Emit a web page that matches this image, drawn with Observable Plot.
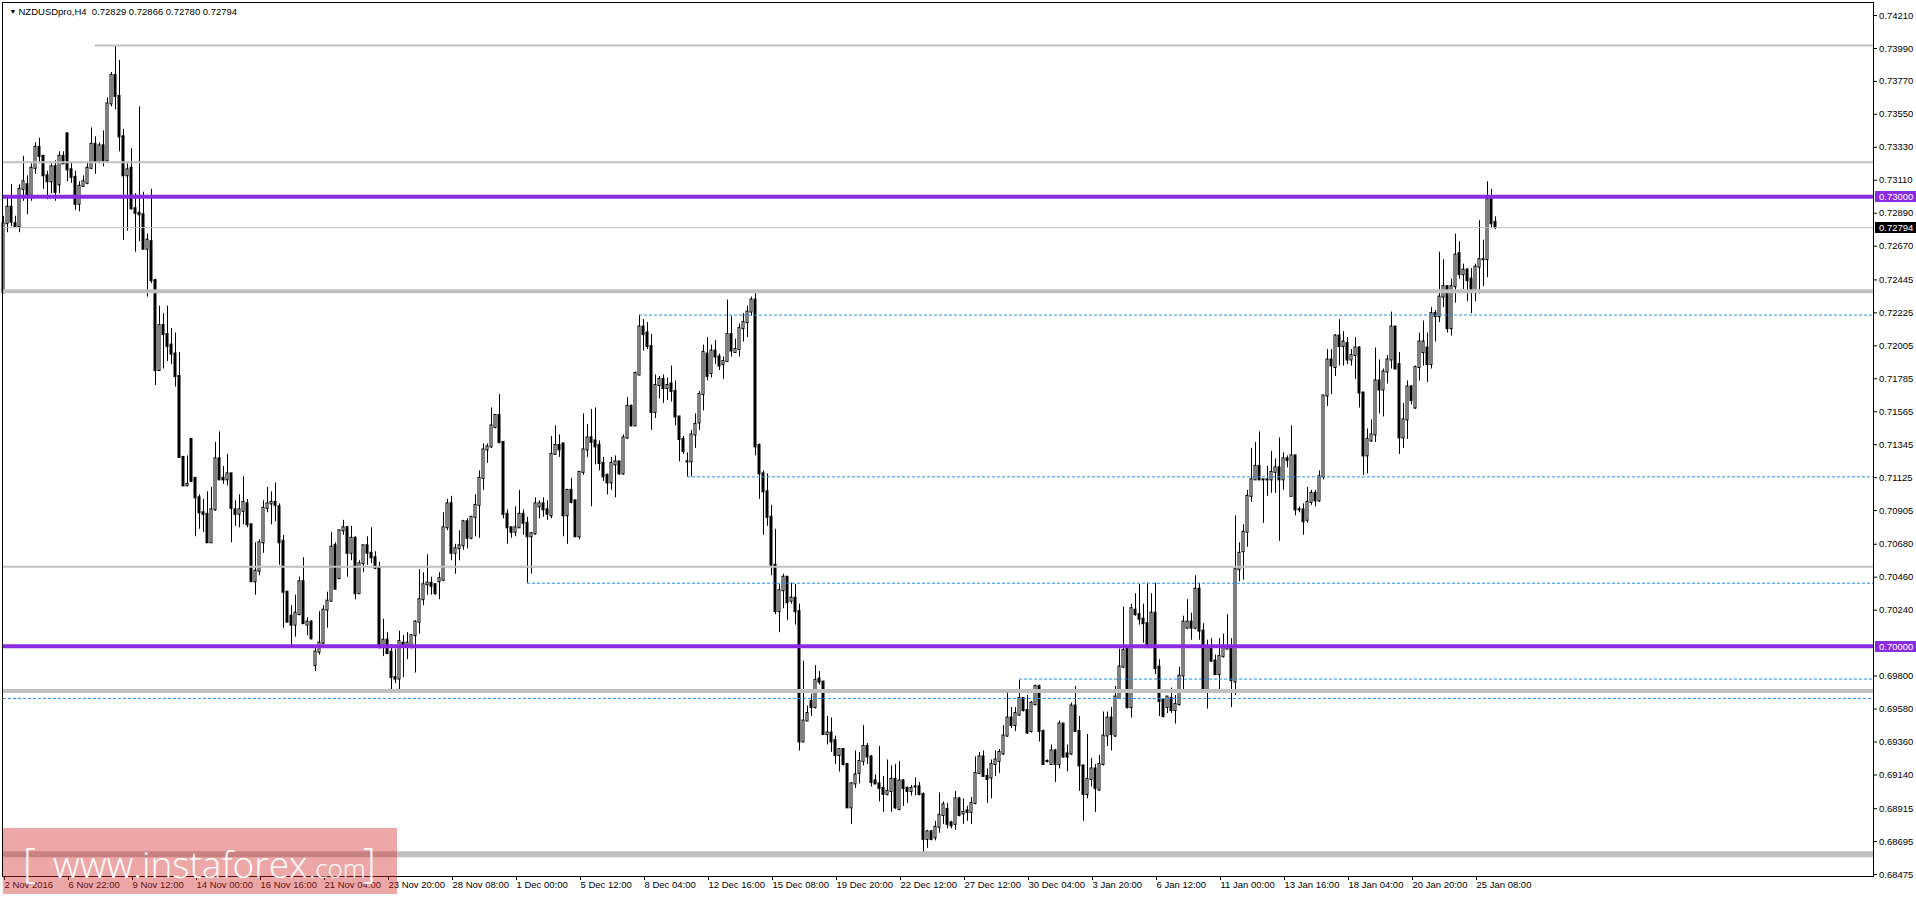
<!DOCTYPE html>
<html><head><meta charset="utf-8">
<script src="https://cdn.jsdelivr.net/npm/d3@7"></script>
<script src="https://cdn.jsdelivr.net/npm/@observablehq/plot@0.6"></script>
<style>
html,body{margin:0;padding:0;background:#fff;overflow:hidden}
#wrap{position:relative;width:1916px;height:897px}
#wm{position:absolute;left:3px;top:828px;width:394px;height:66px;background:rgba(214,46,46,0.42);color:#fff;font-family:"Open Sans","DejaVu Sans",sans-serif;font-weight:300;white-space:nowrap;pointer-events:none}
#wm span{position:absolute;line-height:1}
</style></head><body><div id="wrap"></div>
<script>
const symbolTitle = "NZDUSDpro,H4\u00a0\u00a00.72829 0.72866 0.72780 0.72794";
const open = [0.7236,0.7282,0.7293,0.7282,0.7280,0.7305,0.7308,0.7301,0.7319,0.7333,
0.7327,0.7314,0.7310,0.7320,0.7308,0.7327,0.7342,0.7318,0.7313,0.7295,
0.7307,0.7309,0.7319,0.7335,0.7323,0.7334,0.7324,0.7362,0.7381,0.7367,
0.7340,0.7314,0.7319,0.7292,0.7289,0.7288,0.7265,0.7270,0.7244,0.7184,
0.7214,0.7208,0.7201,0.7195,0.7180,0.7126,0.7107,0.7138,0.7112,0.7099,
0.7089,0.7088,0.7069,0.7091,0.7125,0.7112,0.7111,0.7115,0.7091,0.7088,
0.7090,0.7095,0.7081,0.7043,0.7050,0.7069,0.7092,0.7095,0.7096,0.7093,
0.7070,0.7036,0.7020,0.7014,0.7021,0.7043,0.7014,0.7016,0.6987,0.6996,
0.7002,0.7024,0.7030,0.7067,0.7045,0.7077,0.7079,0.7062,0.7072,0.7035,
0.7055,0.7067,0.7062,0.7059,0.7052,0.6999,0.7004,0.6996,0.6979,0.6978,
0.7002,0.7000,0.7000,0.7007,0.7016,0.7031,0.7041,0.7042,0.7041,0.7043,
0.7044,0.7079,0.7095,0.7062,0.7065,0.7067,0.7083,0.7072,0.7086,0.7094,
0.7112,0.7131,0.7133,0.7146,0.7154,0.7136,0.7088,0.7079,0.7076,0.7079,
0.7088,0.7082,0.7073,0.7075,0.7093,0.7095,0.7091,0.7087,0.7128,0.7134,
0.7135,0.7087,0.7104,0.7097,0.7073,0.7116,0.7131,0.7139,0.7137,0.7134,
0.7122,0.7114,0.7109,0.7121,0.7123,0.7115,0.7139,0.7160,0.7147,0.7181,
0.7213,0.7209,0.7200,0.7156,0.7174,0.7178,0.7172,0.7175,0.7170,0.7153,
0.7138,0.7123,0.7123,0.7141,0.7149,0.7168,0.7195,0.7182,0.7197,0.7193,
0.7188,0.7190,0.7208,0.7196,0.7198,0.7212,0.7216,0.7223,0.7231,0.7134,
0.7115,0.7103,0.7086,0.7054,0.7023,0.7037,0.7046,0.7030,0.7032,0.7023,
0.6936,0.6950,0.6963,0.6959,0.6978,0.6976,0.6941,0.6942,0.6937,0.6927,
0.6931,0.6921,0.6892,0.6908,0.6915,0.6923,0.6933,0.6926,0.6910,0.6908,
0.6905,0.6901,0.6903,0.6911,0.6891,0.6910,0.6905,0.6903,0.6906,0.6906,
0.6901,0.6871,0.6876,0.6872,0.6879,0.6887,0.6891,0.6882,0.6881,0.6898,
0.6888,0.6890,0.6889,0.6895,0.6915,0.6926,0.6913,0.6912,0.6921,0.6923,
0.6928,0.6940,0.6952,0.6947,0.6954,0.6965,0.6957,0.6943,0.6961,0.6973,
0.6943,0.6923,0.6921,0.6930,0.6921,0.6948,0.6928,0.6928,0.6960,0.6943,
0.6920,0.6901,0.6911,0.6918,0.6904,0.6921,0.6940,0.6952,0.6940,0.6965,
0.6986,0.6998,0.6959,0.7024,0.7021,0.7018,0.7015,0.6999,0.7022,0.6986,
0.6964,0.6959,0.6965,0.6957,0.6961,0.6980,0.7012,0.7016,0.7012,0.7038,
0.7010,0.6971,0.6999,0.6990,0.6981,0.6993,0.6998,0.6999,0.6976,0.7051,
0.7063,0.7076,0.7100,0.7111,0.7120,0.7111,0.7111,0.7111,0.7116,0.7119,
0.7111,0.7125,0.7100,0.7127,0.7091,0.7091,0.7084,0.7096,0.7102,0.7097,
0.7113,0.7167,0.7191,0.7186,0.7207,0.7200,0.7202,0.7191,0.7194,0.7199,
0.7169,0.7127,0.7137,0.7141,0.7177,0.7171,0.7183,0.7191,0.7213,0.7188,
0.7139,0.7151,0.7173,0.7159,0.7186,0.7196,0.7199,0.7188,0.7222,0.7220,
0.7233,0.7240,0.7212,0.7240,0.7262,0.7248,0.7251,0.7245,0.7236,0.7253,
0.7258,0.7258,0.7298,0.72829];
const high = [0.7287,0.7299,0.7308,0.7287,0.7308,0.7327,0.7314,0.7322,0.7336,0.7339,
0.7327,0.7317,0.7322,0.7324,0.7330,0.7330,0.7342,0.7323,0.7317,0.7310,
0.7314,0.7323,0.7346,0.7340,0.7336,0.7344,0.7366,0.7383,0.7401,0.7391,
0.7345,0.7322,0.7332,0.7302,0.7360,0.7303,0.7275,0.7305,0.7245,0.7227,
0.7222,0.7227,0.7212,0.7209,0.7196,0.7126,0.7127,0.7138,0.7112,0.7101,
0.7098,0.7103,0.7106,0.7136,0.7143,0.7120,0.7128,0.7115,0.7097,0.7101,
0.7113,0.7098,0.7081,0.7069,0.7071,0.7097,0.7106,0.7103,0.7109,0.7095,
0.7074,0.7036,0.7027,0.7034,0.7046,0.7059,0.7019,0.7017,0.7000,0.7023,
0.7027,0.7036,0.7076,0.7069,0.7077,0.7084,0.7080,0.7080,0.7073,0.7057,
0.7067,0.7073,0.7079,0.7063,0.7056,0.7018,0.7009,0.7001,0.6998,0.7010,
0.7007,0.7009,0.7007,0.7017,0.7051,0.7049,0.7061,0.7046,0.7041,0.7049,
0.7089,0.7098,0.7100,0.7068,0.7077,0.7084,0.7085,0.7086,0.7101,0.7117,
0.7135,0.7135,0.7159,0.7154,0.7168,0.7136,0.7091,0.7079,0.7093,0.7104,
0.7091,0.7086,0.7076,0.7099,0.7097,0.7099,0.7097,0.7140,0.7147,0.7141,
0.7135,0.7104,0.7112,0.7097,0.7116,0.7155,0.7148,0.7158,0.7159,0.7137,
0.7126,0.7115,0.7126,0.7127,0.7123,0.7141,0.7166,0.7161,0.7183,0.7221,
0.7218,0.7216,0.7208,0.7181,0.7180,0.7181,0.7179,0.7187,0.7177,0.7153,
0.7140,0.7129,0.7144,0.7155,0.7170,0.7201,0.7206,0.7201,0.7204,0.7195,
0.7193,0.7231,0.7220,0.7205,0.7215,0.7222,0.7227,0.7233,0.7236,0.7135,
0.7117,0.7115,0.7094,0.7078,0.7041,0.7048,0.7046,0.7042,0.7041,0.7028,
0.6990,0.6960,0.6968,0.6987,0.6983,0.6976,0.6953,0.6952,0.6940,0.6931,
0.6931,0.6921,0.6909,0.6930,0.6929,0.6947,0.6935,0.6927,0.6914,0.6933,
0.6913,0.6924,0.6920,0.6921,0.6923,0.6911,0.6906,0.6907,0.6912,0.6909,
0.6902,0.6877,0.6877,0.6883,0.6902,0.6896,0.6895,0.6883,0.6903,0.6899,
0.6898,0.6893,0.6899,0.6926,0.6929,0.6930,0.6918,0.6924,0.6930,0.6931,
0.6947,0.6969,0.6959,0.6959,0.6977,0.6965,0.6967,0.6963,0.6974,0.6974,
0.6944,0.6924,0.6934,0.6931,0.6950,0.6948,0.6934,0.6962,0.6973,0.6953,
0.6920,0.6941,0.6925,0.6921,0.6927,0.6956,0.6956,0.6959,0.6973,0.6998,
0.7026,0.6999,0.7028,0.7035,0.7041,0.7028,0.7042,0.7035,0.7042,0.6991,
0.6964,0.6966,0.6972,0.6967,0.6986,0.7020,0.7031,0.7022,0.7047,0.7042,
0.7015,0.7004,0.7005,0.6994,0.7005,0.7008,0.7021,0.7005,0.7087,0.7069,
0.7081,0.7104,0.7132,0.7136,0.7143,0.7111,0.7120,0.7130,0.7125,0.7139,
0.7129,0.7127,0.7147,0.7127,0.7093,0.7095,0.7106,0.7104,0.7104,0.7117,
0.7167,0.7198,0.7198,0.7208,0.7218,0.7210,0.7206,0.7198,0.7206,0.7200,
0.7169,0.7145,0.7151,0.7199,0.7191,0.7185,0.7194,0.7223,0.7213,0.7196,
0.7162,0.7177,0.7174,0.7187,0.7209,0.7217,0.7209,0.7226,0.7224,0.7263,
0.7258,0.7240,0.7245,0.7275,0.7270,0.7255,0.7252,0.7252,0.7255,0.7284,
0.7271,0.7310,0.7305,0.72866];
const low = [0.7235,0.7276,0.7280,0.7279,0.7276,0.7297,0.7288,0.7297,0.7315,0.7322,
0.7305,0.7298,0.7302,0.7297,0.7302,0.7322,0.7310,0.7309,0.7291,0.7290,
0.7307,0.7308,0.7318,0.7315,0.7322,0.7320,0.7324,0.7360,0.7358,0.7330,
0.7271,0.7277,0.7291,0.7263,0.7270,0.7265,0.7233,0.7242,0.7174,0.7184,
0.7185,0.7190,0.7188,0.7173,0.7126,0.7107,0.7107,0.7110,0.7073,0.7078,
0.7076,0.7069,0.7069,0.7090,0.7111,0.7108,0.7107,0.7069,0.7080,0.7079,
0.7081,0.7079,0.7043,0.7034,0.7047,0.7062,0.7089,0.7081,0.7083,0.7054,
0.7012,0.7016,0.7000,0.7006,0.7021,0.7015,0.7007,0.7004,0.6983,0.6994,
0.7001,0.7012,0.7030,0.7038,0.7045,0.7074,0.7046,0.7057,0.7031,0.7035,
0.7049,0.7054,0.7055,0.7051,0.6998,0.6993,0.6995,0.6970,0.6975,0.6971,
0.6979,0.6991,0.6998,0.6982,0.7008,0.7027,0.7034,0.7034,0.7034,0.7031,
0.7043,0.7077,0.7057,0.7048,0.7057,0.7064,0.7065,0.7071,0.7073,0.7072,
0.7104,0.7122,0.7132,0.7145,0.7135,0.7085,0.7068,0.7072,0.7073,0.7079,
0.7074,0.7042,0.7048,0.7074,0.7085,0.7086,0.7084,0.7085,0.7128,0.7126,
0.7073,0.7068,0.7095,0.7073,0.7071,0.7114,0.7126,0.7093,0.7121,0.7117,
0.7110,0.7101,0.7104,0.7099,0.7114,0.7114,0.7138,0.7147,0.7147,0.7181,
0.7197,0.7198,0.7144,0.7152,0.7165,0.7162,0.7164,0.7163,0.7147,0.7123,
0.7128,0.7113,0.7113,0.7132,0.7144,0.7157,0.7177,0.7179,0.7188,0.7184,
0.7178,0.7190,0.7193,0.7196,0.7193,0.7203,0.7206,0.7220,0.7127,0.7098,
0.7074,0.7080,0.7047,0.7021,0.7009,0.7025,0.7017,0.7028,0.7014,0.6930,
0.6936,0.6950,0.6953,0.6958,0.6974,0.6941,0.6934,0.6929,0.6921,0.6916,
0.6920,0.6892,0.6881,0.6905,0.6908,0.6920,0.6921,0.6906,0.6908,0.6896,
0.6889,0.6900,0.6889,0.6891,0.6890,0.6893,0.6895,0.6900,0.6900,0.6900,
0.6861,0.6865,0.6870,0.6870,0.6875,0.6881,0.6878,0.6878,0.6877,0.6886,
0.6881,0.6883,0.6881,0.6894,0.6914,0.6913,0.6895,0.6898,0.6913,0.6915,
0.6927,0.6939,0.6945,0.6943,0.6953,0.6956,0.6941,0.6942,0.6960,0.6936,
0.6921,0.6922,0.6921,0.6909,0.6918,0.6925,0.6916,0.6927,0.6943,0.6903,
0.6883,0.6898,0.6906,0.6889,0.6903,0.6920,0.6933,0.6930,0.6939,0.6965,
0.6985,0.6958,0.6952,0.7020,0.7014,0.7002,0.6999,0.6999,0.6981,0.6953,
0.6952,0.6955,0.6955,0.6948,0.6960,0.6971,0.7011,0.7004,0.7011,0.7004,
0.6971,0.6958,0.6989,0.6981,0.6970,0.6992,0.6998,0.6959,0.6967,0.7043,
0.7044,0.7066,0.7096,0.7111,0.7111,0.7082,0.7100,0.7102,0.7102,0.7070,
0.7104,0.7119,0.7100,0.7087,0.7089,0.7074,0.7082,0.7094,0.7093,0.7096,
0.7111,0.7160,0.7168,0.7180,0.7187,0.7187,0.7188,0.7187,0.7178,0.7159,
0.7114,0.7115,0.7136,0.7136,0.7155,0.7153,0.7175,0.7185,0.7185,0.7128,
0.7132,0.7138,0.7161,0.7158,0.7177,0.7187,0.7176,0.7185,0.7203,0.7216,
0.7226,0.7209,0.7207,0.7229,0.7245,0.7238,0.7230,0.7222,0.7230,0.7235,
0.7240,0.7246,0.7279,0.72780];
const close = [0.7282,0.7293,0.7283,0.7280,0.7305,0.7310,0.7301,0.7319,0.7333,0.7327,
0.7314,0.7310,0.7320,0.7303,0.7327,0.7322,0.7318,0.7313,0.7295,0.7307,
0.7310,0.7319,0.7335,0.7323,0.7334,0.7324,0.7362,0.7381,0.7367,0.7340,
0.7314,0.7318,0.7292,0.7289,0.7288,0.7265,0.7271,0.7244,0.7184,0.7214,
0.7208,0.7200,0.7195,0.7180,0.7126,0.7107,0.7108,0.7110,0.7099,0.7089,
0.7088,0.7069,0.7091,0.7125,0.7111,0.7111,0.7115,0.7092,0.7088,0.7091,
0.7096,0.7081,0.7043,0.7050,0.7069,0.7092,0.7095,0.7096,0.7094,0.7069,
0.7036,0.7016,0.7014,0.7022,0.7043,0.7015,0.7016,0.7005,0.6996,0.7002,
0.7024,0.7030,0.7066,0.7038,0.7077,0.7079,0.7062,0.7072,0.7035,0.7055,
0.7067,0.7062,0.7059,0.7052,0.6999,0.7004,0.6995,0.6979,0.6978,0.7003,
0.7001,0.7002,0.7007,0.7016,0.7031,0.7041,0.7042,0.7040,0.7035,0.7045,
0.7079,0.7095,0.7062,0.7065,0.7067,0.7083,0.7072,0.7086,0.7094,0.7112,
0.7131,0.7133,0.7147,0.7154,0.7136,0.7088,0.7079,0.7076,0.7079,0.7088,
0.7082,0.7073,0.7075,0.7095,0.7095,0.7091,0.7088,0.7128,0.7134,0.7131,
0.7087,0.7104,0.7096,0.7073,0.7116,0.7131,0.7139,0.7136,0.7133,0.7122,
0.7113,0.7109,0.7122,0.7123,0.7115,0.7139,0.7160,0.7147,0.7182,0.7213,
0.7208,0.7200,0.7156,0.7174,0.7178,0.7172,0.7174,0.7170,0.7153,0.7138,
0.7130,0.7123,0.7141,0.7148,0.7168,0.7196,0.7180,0.7197,0.7193,0.7187,
0.7190,0.7208,0.7197,0.7198,0.7212,0.7216,0.7223,0.7231,0.7133,0.7115,
0.7103,0.7086,0.7054,0.7023,0.7037,0.7046,0.7029,0.7032,0.7023,0.6936,
0.6950,0.6955,0.6959,0.6977,0.6976,0.6941,0.6942,0.6936,0.6927,0.6931,
0.6921,0.6892,0.6908,0.6914,0.6923,0.6933,0.6926,0.6909,0.6908,0.6905,
0.6901,0.6903,0.6911,0.6892,0.6910,0.6905,0.6903,0.6905,0.6906,0.6901,
0.6871,0.6876,0.6871,0.6879,0.6887,0.6894,0.6881,0.6880,0.6898,0.6887,
0.6889,0.6889,0.6895,0.6915,0.6926,0.6913,0.6911,0.6921,0.6924,0.6929,
0.6940,0.6952,0.6947,0.6955,0.6965,0.6957,0.6942,0.6962,0.6973,0.6943,
0.6921,0.6923,0.6930,0.6921,0.6948,0.6926,0.6926,0.6960,0.6943,0.6920,
0.6901,0.6911,0.6918,0.6905,0.6921,0.6940,0.6952,0.6941,0.6966,0.6986,
0.6997,0.6959,0.7025,0.7021,0.7018,0.7015,0.6999,0.7022,0.6985,0.6963,
0.6953,0.6966,0.6957,0.6961,0.6980,0.7016,0.7016,0.7012,0.7038,0.7010,
0.6971,0.6999,0.6990,0.6981,0.6993,0.6999,0.6999,0.6977,0.7051,0.7062,
0.7076,0.7100,0.7111,0.7120,0.7111,0.7111,0.7111,0.7116,0.7119,0.7111,
0.7125,0.7124,0.7127,0.7091,0.7091,0.7083,0.7096,0.7102,0.7097,0.7113,
0.7167,0.7191,0.7187,0.7207,0.7200,0.7203,0.7191,0.7194,0.7199,0.7169,
0.7127,0.7138,0.7141,0.7177,0.7171,0.7183,0.7191,0.7213,0.7185,0.7139,
0.7151,0.7173,0.7164,0.7186,0.7203,0.7203,0.7188,0.7222,0.7220,0.7233,
0.7240,0.7212,0.7240,0.7261,0.7248,0.7251,0.7244,0.7236,0.7253,0.7258,
0.7258,0.7298,0.7282,0.72794];

const dateLabels = ["2 Nov 2016","6 Nov 22:00","9 Nov 12:00","14 Nov 00:00","16 Nov 16:00","21 Nov 04:00","23 Nov 20:00","28 Nov 08:00","1 Dec 00:00","5 Dec 12:00","8 Dec 04:00","12 Dec 16:00","15 Dec 08:00","19 Dec 20:00","22 Dec 12:00","27 Dec 12:00","30 Dec 04:00","3 Jan 20:00","6 Jan 12:00","11 Jan 00:00","13 Jan 16:00","18 Jan 04:00","20 Jan 20:00","25 Jan 08:00"];
const dateLabelBars = [0,16,32,48,64,80,96,112,128,144,160,176,192,208,224,240,256,272,288,304,320,336,352,368];
const priceTicks = [0.74210,0.73990,0.73770,0.73550,0.73330,0.73110,0.72890,0.72670,0.72445,0.72225,0.72005,0.71785,0.71565,0.71345,0.71125,0.70905,0.70680,0.70460,0.70240,0.69800,0.69580,0.69360,0.69140,0.68915,0.68695,0.68475];

// horizontal levels drawn on the chart
const roundLevels = [0.73000, 0.70000];
const greyLevels = [0.7401, 0.7323, 0.7053];
const greyLevelFrom = [23, null, null];
const bidLevel = [0.72794];
const zoneLevels = [0.7237, 0.6970];
const floorLevel = [0.6861];
const dashedLevels = [0.7221, 0.7113, 0.7042, 0.6978, 0.6965];
const dashedLevelFrom = [159, 171, 131, 254, 0];
const priceTags = [{price: 0.73000, kind: "level"}, {price: 0.72794, kind: "bid"}, {price: 0.70000, kind: "level"}];

const bars = open.map((o, i) => ({i, o, h: high[i], l: low[i], c: close[i]}));
const xDomain = [-0.25, 467.5];
const grey = greyLevels.map((p, k) => ({p, from: greyLevelFrom[k] ?? xDomain[0]}));
const dashed = dashedLevels.map((p, k) => ({p, from: dashedLevelFrom[k] ?? xDomain[0]}));
const labelOf = new Map(dateLabelBars.map((b, k) => [b, dateLabels[k]]));
const fmt = d3.format(".5f");
const purple = "#8a2be2";

function tagMark(index, scales, values, dim) {
  const g = d3.create("svg:g").attr("text-anchor", "start");
  const x0 = dim.width - dim.marginRight + 2;
  for (const t of priceTags) {
    const y = Math.round(scales.y(t.price));
    g.append("rect").attr("x", x0).attr("y", y - 5).attr("width", dim.marginRight - 2).attr("height", 11)
      .attr("fill", t.kind === "bid" ? "#000" : purple);
    g.append("text").attr("x", x0 + 4).attr("y", y + 0.5).attr("dy", "0.35em").attr("fill", "#fff")
      .attr("text-anchor", "start")
      .attr("font-family", "Liberation Sans, Arial, sans-serif").attr("font-size", 9.5).text(fmt(t.price));
  }
  return g.node();
}

const chart = Plot.plot({
  width: 1916, height: 897,
  marginLeft: 2, marginRight: 43, marginTop: 2, marginBottom: 21,
  style: {fontFamily: "Liberation Sans, Arial, sans-serif", fontSize: "9.5px", background: "#fff", color: "#000", overflow: "visible"},
  x: {type: "linear", domain: xDomain, label: null},
  y: {domain: [0.68462, 0.74297], label: null},
  marks: [
    Plot.ruleX(bars, {x: "i", y1: "l", y2: "h", stroke: "#000", strokeWidth: 1}),
    Plot.rect(bars, {x1: d => d.i - 0.25, x2: d => d.i + 0.25, y1: "o", y2: "c", insetTop: -0.5, insetBottom: -0.5,
      fill: d => d.c >= d.o ? "#fff" : "#000", stroke: "#000", strokeWidth: 1}),
    Plot.ruleY(grey, {y: "p", x1: "from", x2: xDomain[1], stroke: "#c0c0c0", strokeWidth: 2}),
    Plot.ruleY(bidLevel, {stroke: "#c0c0c0", strokeWidth: 1}),
    Plot.ruleY(zoneLevels, {stroke: "#c0c0c0", strokeWidth: 4}),
    Plot.ruleY(floorLevel, {stroke: "#c0c0c0", strokeWidth: 6}),
    Plot.ruleY(dashed, {y: "p", x1: "from", x2: xDomain[1], stroke: "#1e90ff", strokeWidth: 1, strokeDasharray: "3,2"}),
    Plot.ruleY(roundLevels, {stroke: purple, strokeWidth: 4}),
    Plot.frame({stroke: "#000"}),
    Plot.axisY(priceTicks, {anchor: "right", tickSize: 3, tickPadding: 2.5, tickFormat: fmt, fill: "#000"}),
    Plot.axisX(dateLabelBars, {anchor: "bottom", tickSize: 4, tickPadding: 1, textAnchor: "start", dx: 1, tickFormat: d => labelOf.get(d), fill: "#000"}),
    Plot.text(["\u25bc"], {frameAnchor: "top-left", dx: 7, dy: 9, fontSize: 7, textAnchor: "start", lineAnchor: "middle", fill: "#000"}),
    Plot.text([symbolTitle], {frameAnchor: "top-left", dx: 16, dy: 9, textAnchor: "start", lineAnchor: "middle", fill: "#000"}),
    tagMark
  ]
});
const wrap = document.getElementById("wrap");
wrap.appendChild(chart);
const wm = document.createElement("div");
wm.id = "wm";
wm.innerHTML = '<span style="left:20px;top:14px;font-size:40px">[</span>' +
  '<span style="left:50px;top:17px;font-size:37px">www.instaforex</span>' +
  '<span style="left:306px;top:27px;font-size:26px">.com</span>' +
  '<span style="left:360px;top:14px;font-size:40px">]</span>';
wrap.appendChild(wm);
</script>
</body></html>
